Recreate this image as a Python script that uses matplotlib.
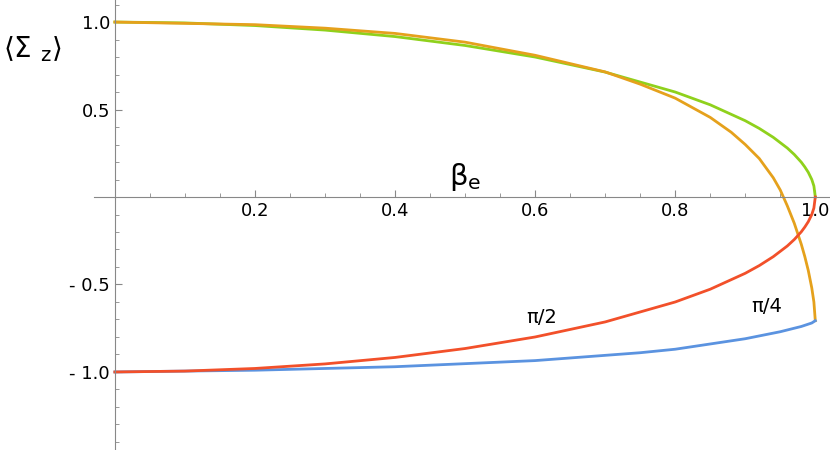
import matplotlib.pyplot as plt
from matplotlib.ticker import FixedLocator, FixedFormatter, MultipleLocator

# values
beta_circ = [0, 0.1, 0.2, 0.3, 0.4, 0.5, 0.6, 0.7, 0.8, 0.85, 0.9, 0.92, 0.94, 0.96, 0.97,
             0.98, 0.985, 0.99, 0.995, 0.998, 1.0]
green = [1.0, 0.995, 0.98, 0.954, 0.917, 0.866, 0.8, 0.714, 0.6, 0.527, 0.436, 0.392, 0.341,
         0.28, 0.243, 0.199, 0.172, 0.141, 0.1, 0.063, 0.0]
red = [-v for v in green]

beta_orange = [0, 0.2, 0.3, 0.4, 0.5, 0.6, 0.7, 0.75, 0.8, 0.85, 0.88, 0.9, 0.92, 0.94, 0.95,
               0.96, 0.97, 0.98, 0.985, 0.99, 0.995, 0.998, 1.0]
orange = [1.0, 0.985, 0.965, 0.935, 0.885, 0.81, 0.715, 0.645, 0.565, 0.455, 0.37, 0.3, 0.22,
          0.11, 0.04, -0.05, -0.15, -0.27, -0.34, -0.42, -0.52, -0.6, -0.707]
beta_blue = [0, 0.2, 0.4, 0.6, 0.75, 0.8, 0.9, 0.95, 0.98, 0.995, 1.0]
blue = [-1.0, -0.99, -0.97, -0.935, -0.89, -0.87, -0.81, -0.77, -0.74, -0.72, -0.707]

fig = plt.figure(figsize=(8.3, 4.5), dpi=100)
ax = fig.add_axes([0, 0, 1, 1])
ax.plot(beta_circ, green, color="#8fd11c", lw=2)
ax.plot(beta_orange, orange, color="#e5a11c", lw=2)
ax.plot(beta_blue, blue, color="#5b93e0", lw=2)
ax.plot(beta_circ, red, color="#f2502a", lw=2)

ax.set_xlim(-0.164, 1.021)
ax.set_ylim(-1.446, 1.126)
ax.spines["left"].set_position(("data", 0))
ax.spines["bottom"].set_position(("data", 0))
ax.spines["right"].set_visible(False)
ax.spines["top"].set_visible(False)
ax.spines["bottom"].set_bounds(-0.03, 1.02)
for s in ("left", "bottom"):
    ax.spines[s].set_color("#888888")

ax.xaxis.set_major_locator(FixedLocator([0.2, 0.4, 0.6, 0.8, 1.0]))
ax.xaxis.set_major_formatter(FixedFormatter(["0.2", "0.4", "0.6", "0.8", "1.0"]))
ax.xaxis.set_minor_locator(FixedLocator([i * 0.05 for i in range(1, 21)]))
ax.yaxis.set_major_locator(FixedLocator([-1.0, -0.5, 0.5, 1.0]))
ax.yaxis.set_major_formatter(FixedFormatter(["- 1.0", "- 0.5", "0.5", "1.0"]))
ax.yaxis.set_minor_locator(MultipleLocator(0.1))
ax.tick_params(which="both", direction="in", color="#888888", labelsize=13)
ax.tick_params(which="major", length=5)
ax.tick_params(which="minor", length=3)

ax.text(0.5, 0.07, r"$\mathregular{\beta_e}$", fontsize=21, ha="center")
ax.text(-0.16, 0.93, r"$\mathregular{\langle\Sigma\ _z\rangle}$", fontsize=20, va="top")
ax.text(0.61, -0.72, "π/2", fontsize=14, ha="center")
ax.text(0.93, -0.66, "π/4", fontsize=14, ha="center")

fig.savefig("out.png", dpi=100)
